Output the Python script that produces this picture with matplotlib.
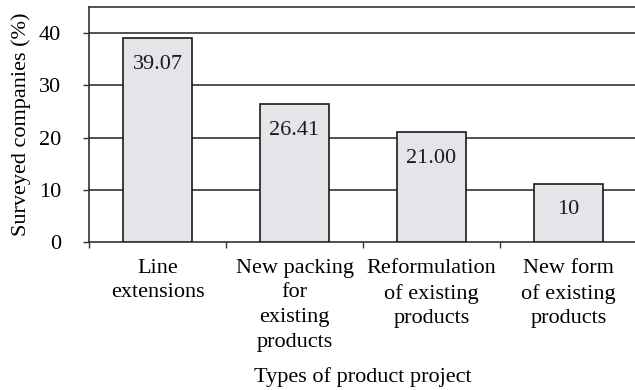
import matplotlib
matplotlib.use("Agg")
import matplotlib.pyplot as plt
import numpy as np

categories = ["Line\nextensions", "New packing\nfor\nexisting\nproducts",
              "Reformulation\nof existing\nproducts", "New form\nof existing\nproducts"]
values = [39.07, 26.41, 21.00, 11.2]
value_labels = ["39.07", "26.41", "21.00", "10"]
yticks = [0, 10, 20, 30, 40]

plt.rcParams['font.family'] = ['Liberation Serif', 'DejaVu Serif']
FS = 16

fig = plt.figure(figsize=(6.35, 3.9), dpi=100)
ax = fig.add_axes([89/635, 1-242/390, 548/635, 235/390])

x = np.arange(len(values)) + 0.5
bars = ax.bar(x, values, width=0.5, color="#e4e5e8", edgecolor="#1a1a1a", linewidth=1.2, zorder=3)
for b, lab in zip(bars, value_labels):
    ax.annotate(lab, (b.get_x() + b.get_width()/2, b.get_height()), xytext=(0, -12),
                textcoords="offset points", ha="center", va="top", fontsize=FS, color="#1a1a1a", zorder=4)

ax.set_xlim(0, 4)
ax.set_ylim(0, 45)
ax.set_yticks(yticks)
ax.set_yticklabels([str(t) for t in yticks], fontsize=FS)
ax.set_xticks(np.arange(0, 5))
ax.set_xticklabels([])
ax.set_xticks(x, minor=True)
ax.set_xticklabels(categories, minor=True, fontsize=FS, linespacing=1.41, va="top")
ax.tick_params(axis="x", which="minor", length=0, pad=12)
ax.tick_params(axis="x", which="major", length=4, width=1, color="#333333", direction="out")
ax.tick_params(axis="y", length=4, width=1, color="#333333", direction="out", pad=16)

for t in [10, 20, 30, 40]:
    ax.axhline(t, color="#333333", linewidth=1.2, zorder=1)

for s in ["left", "top", "bottom", "right"]:
    ax.spines[s].set_color("#333333")
    ax.spines[s].set_linewidth(1.2)

ax.set_ylabel("Surveyed companies (%)", fontsize=FS, labelpad=6)
ax.set_xlabel("Types of product project", fontsize=FS, labelpad=11)

fig.savefig("out.png", dpi=100)
